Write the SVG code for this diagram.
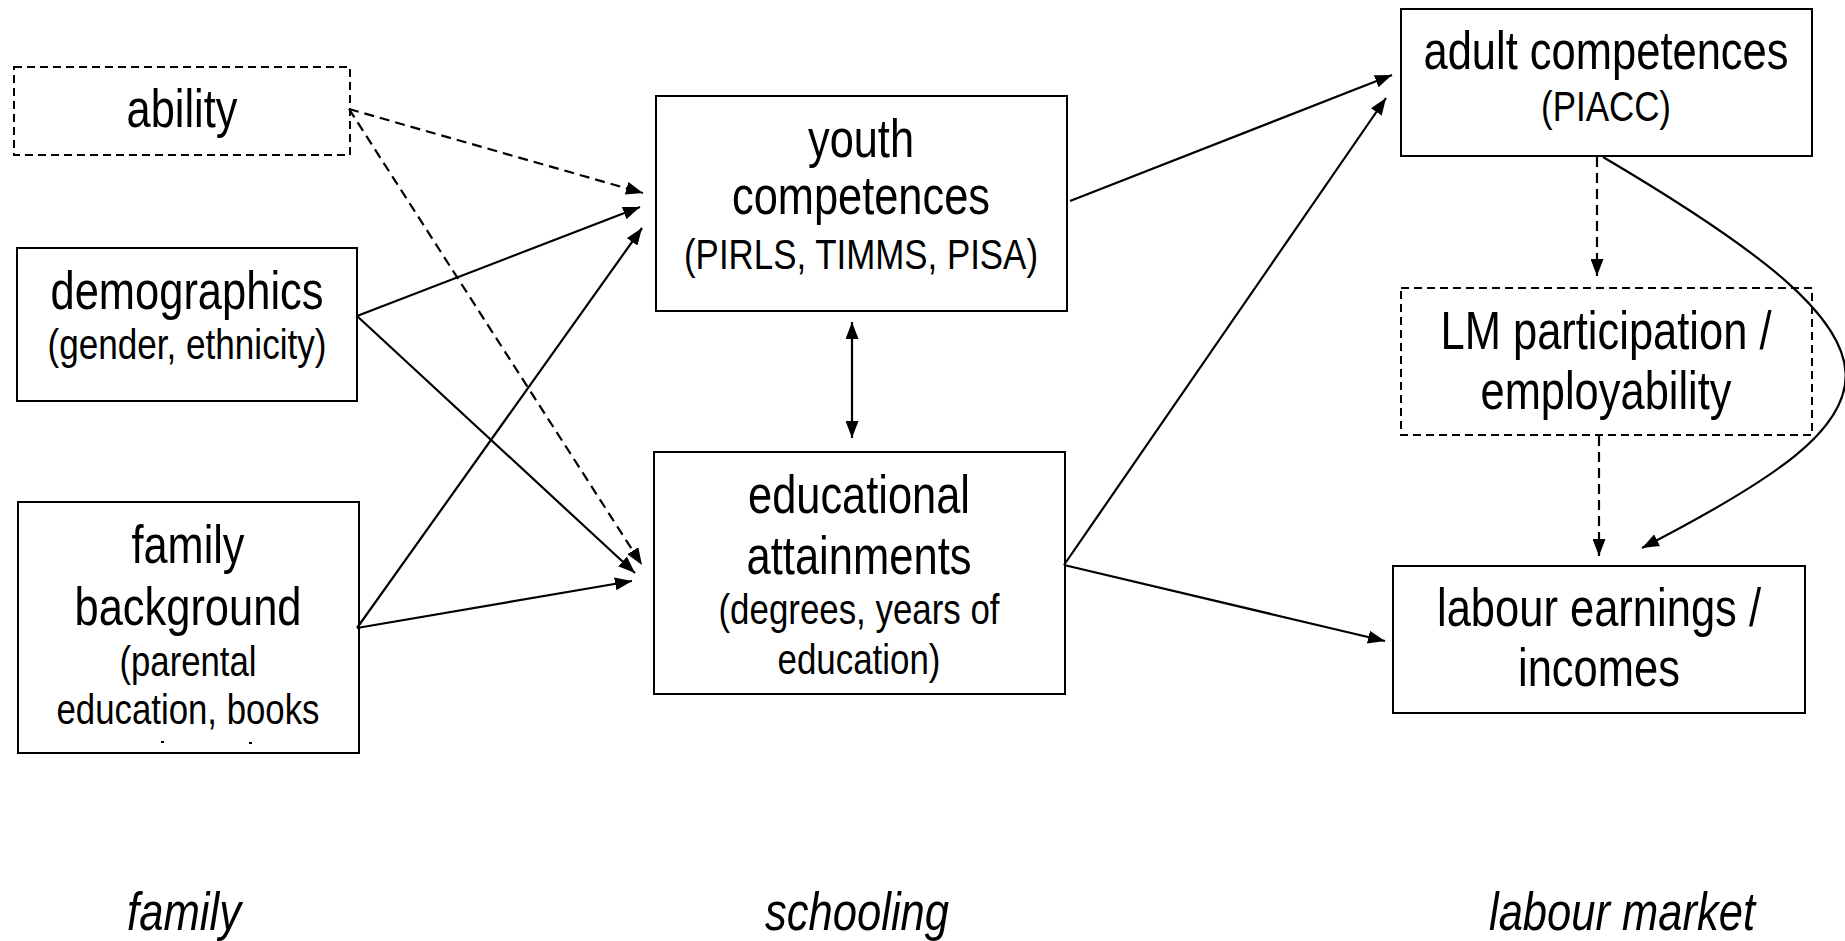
<svg xmlns="http://www.w3.org/2000/svg" width="1845" height="941" viewBox="0 0 1845 941">
  <style>
    .box { fill: #ffffff; stroke: #000000; stroke-width: 2; }
    .dbox { fill: #ffffff; stroke: #000000; stroke-width: 2; stroke-dasharray: 8 5; }
    .lg { font-family: "Liberation Sans Narrow", "Liberation Sans", Arial, sans-serif; font-size: 54px; fill: #000000; text-anchor: middle; }
    .sm { font-family: "Liberation Sans Narrow", "Liberation Sans", Arial, sans-serif; font-size: 43px; fill: #000000; text-anchor: middle; }
    .it { font-style: italic; }
    .edge { fill: none; stroke: #000000; stroke-width: 2.2; }
    .dash { stroke-dasharray: 10 6; }
  </style>
  <defs>
    <marker id="arrow" viewBox="0 0 17 13" refX="17" refY="6.5" markerWidth="17" markerHeight="13" markerUnits="userSpaceOnUse" orient="auto-start-reverse">
      <path d="M0,0 L17,6.5 L0,13 Z" fill="#000000"/>
    </marker>
  </defs>

  <rect width="1845" height="941" fill="#ffffff"/>

  <!-- family column -->
  <g id="ability">
    <rect class="dbox" x="14" y="67" width="336" height="88"/>
    <text class="lg" x="182" y="127" textLength="111" lengthAdjust="spacingAndGlyphs">ability</text>
  </g>
  <g id="demographics">
    <rect class="box" x="17" y="248" width="340" height="153"/>
    <text class="lg" x="187" y="309" textLength="273" lengthAdjust="spacingAndGlyphs">demographics</text>
    <text class="sm" x="187" y="359" textLength="279" lengthAdjust="spacingAndGlyphs">(gender, ethnicity)</text>
  </g>
  <g id="family-background">
    <rect class="box" x="18" y="502" width="341" height="251"/>
    <text class="lg" x="188" y="563" textLength="113" lengthAdjust="spacingAndGlyphs">family</text>
    <text class="lg" x="188" y="625" textLength="227" lengthAdjust="spacingAndGlyphs">background</text>
    <text class="sm" x="188" y="676" textLength="137" lengthAdjust="spacingAndGlyphs">(parental</text>
    <text class="sm" x="188" y="724" textLength="263" lengthAdjust="spacingAndGlyphs">education, books</text>
    <rect x="161" y="741" width="3" height="2" fill="#000000"/>
    <rect x="249" y="742" width="3" height="2" fill="#000000"/>
  </g>

  <!-- schooling column -->
  <g id="youth-competences">
    <rect class="box" x="656" y="96" width="411" height="215"/>
    <text class="lg" x="861" y="157" textLength="106" lengthAdjust="spacingAndGlyphs">youth</text>
    <text class="lg" x="861" y="214" textLength="258" lengthAdjust="spacingAndGlyphs">competences</text>
    <text class="sm" x="861" y="269" textLength="354" lengthAdjust="spacingAndGlyphs">(PIRLS, TIMMS, PISA)</text>
  </g>
  <g id="educational-attainments">
    <rect class="box" x="654" y="452" width="411" height="242"/>
    <text class="lg" x="859" y="513" textLength="222" lengthAdjust="spacingAndGlyphs">educational</text>
    <text class="lg" x="859" y="574" textLength="225" lengthAdjust="spacingAndGlyphs">attainments</text>
    <text class="sm" x="859" y="624" textLength="281" lengthAdjust="spacingAndGlyphs">(degrees, years of</text>
    <text class="sm" x="859" y="674" textLength="163" lengthAdjust="spacingAndGlyphs">education)</text>
  </g>

  <!-- labour market column -->
  <g id="adult-competences">
    <rect class="box" x="1401" y="9" width="411" height="147"/>
    <text class="lg" x="1606" y="69" textLength="365" lengthAdjust="spacingAndGlyphs">adult competences</text>
    <text class="sm" x="1606" y="121" textLength="130" lengthAdjust="spacingAndGlyphs">(PIACC)</text>
  </g>
  <g id="lm-participation">
    <rect class="dbox" x="1401" y="288" width="411" height="147"/>
    <text class="lg" x="1606" y="349" textLength="331" lengthAdjust="spacingAndGlyphs">LM participation /</text>
    <text class="lg" x="1606" y="409" textLength="251" lengthAdjust="spacingAndGlyphs">employability</text>
  </g>
  <g id="labour-earnings">
    <rect class="box" x="1393" y="566" width="412" height="147"/>
    <text class="lg" x="1599" y="626" textLength="324" lengthAdjust="spacingAndGlyphs">labour earnings /</text>
    <text class="lg" x="1599" y="686" textLength="162" lengthAdjust="spacingAndGlyphs">incomes</text>
  </g>

  <!-- stage labels -->
  <g id="stage-labels">
    <text class="lg it" x="184" y="930" textLength="114" lengthAdjust="spacingAndGlyphs">family</text>
    <text class="lg it" x="857" y="930" textLength="184" lengthAdjust="spacingAndGlyphs">schooling</text>
    <text class="lg it" x="1622" y="930" textLength="266" lengthAdjust="spacingAndGlyphs">labour market</text>
  </g>

  <!-- connectors -->
  <g id="connectors">
    <line class="edge dash" x1="349" y1="109" x2="643" y2="193" marker-end="url(#arrow)"/>
    <line class="edge dash" x1="349" y1="109" x2="642" y2="565" marker-end="url(#arrow)"/>
    <line class="edge" x1="357" y1="316" x2="640" y2="207" marker-end="url(#arrow)"/>
    <line class="edge" x1="357" y1="316" x2="635" y2="573" marker-end="url(#arrow)"/>
    <line class="edge" x1="357" y1="628" x2="642" y2="228" marker-end="url(#arrow)"/>
    <line class="edge" x1="357" y1="628" x2="632" y2="581" marker-end="url(#arrow)"/>
    <line class="edge" x1="852" y1="322" x2="852" y2="438" marker-start="url(#arrow)" marker-end="url(#arrow)"/>
    <line class="edge" x1="1070" y1="201" x2="1392" y2="75" marker-end="url(#arrow)"/>
    <line class="edge" x1="1064" y1="565" x2="1386" y2="98" marker-end="url(#arrow)"/>
    <line class="edge" x1="1064" y1="565" x2="1385" y2="641" marker-end="url(#arrow)"/>
    <line class="edge dash" x1="1597" y1="157" x2="1597" y2="276" marker-end="url(#arrow)"/>
    <line class="edge dash" x1="1599" y1="436" x2="1599" y2="556" marker-end="url(#arrow)"/>
    <path class="edge" d="M1603,157 C1930,350 1910,410 1642,548" marker-end="url(#arrow)"/>
  </g>
</svg>
